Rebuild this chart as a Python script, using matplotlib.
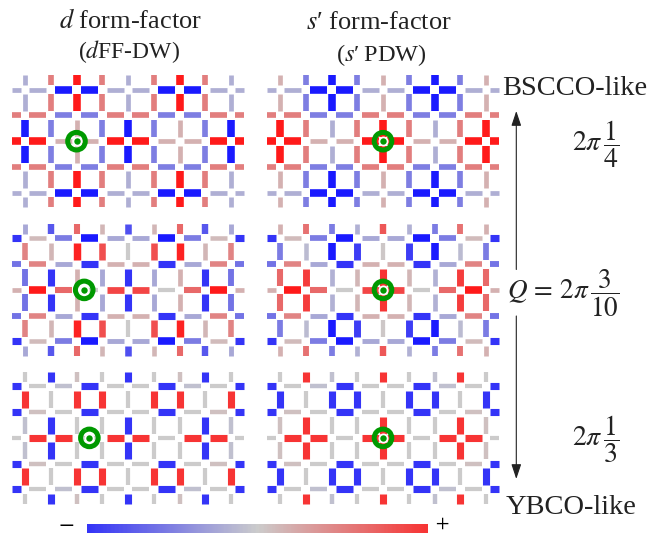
#!/usr/bin/env python3
# density wave bond patterns on the square lattice, three periods, two form factors
import numpy as np
import matplotlib
matplotlib.use("Agg")
import matplotlib.pyplot as plt
from matplotlib.collections import LineCollection
from matplotlib.colors import LinearSegmentedColormap

plt.rcParams["font.family"] = ["Liberation Serif", "DejaVu Serif"]
plt.rcParams["mathtext.fontset"] = "stix"

DPI = 100
W, H = 651, 535
TEXT = "#222222"
GREEN = "#009900"

# horizontal bonds: one row per lattice row, left stub + 8 bonds + right stub
H_TOP = [
    [-.16, -.16, -1, -1, -.16, -.16, -1, -1, -.16, -.16],
    [.43, .43, -.43, -.43, .43, .43, -.43, -.43, .43, .43],
    [1, 1, .15, .15, 1, 1, .15, .15, 1, 1],
    [.43, .43, -.43, -.43, .43, .43, -.43, -.43, .43, .43],
    [-.16, -.16, -1, -1, -.16, -.16, -1, -1, -.16, -.16],
]
H_MID = [
    [-.85, .1, -.45, -1, -.2, -.2, -1, -.45, .1, -.85],
    [-.5, .4, -.2, -.85, .15, .15, -.85, -.2, .4, -.5],
    [.15, 1, .55, 0, .75, .75, 0, .55, 1, .15],
    [-.5, .4, -.2, -.85, .15, .15, -.85, -.2, .4, -.5],
    [-.85, .1, -.45, -1, -.2, -.2, -1, -.45, .1, -.85],
]
H_LOW = [
    [-.85, 0, -.07, -.85, 0, 0, -.85, -.07, 0, -.85],
    [-.85, .07, 0, -.85, 0, 0, -.85, 0, .07, -.85],
    [0, .85, .85, 0, .85, .85, 0, .85, .85, 0],
    [-.85, .07, 0, -.85, 0, 0, -.85, 0, .07, -.85],
    [-.85, 0, -.07, -.85, 0, 0, -.85, -.07, 0, -.85],
]

# vertical bonds: one column per lattice column, top stub + 4 bonds + bottom stub
V_D_TOP = [
    [-.16, -.16, -1, -1, -.16, -.16],
    [.43, .43, -.43, -.43, .43, .43],
    [1, 1, .15, .15, 1, 1],
    [.43, .43, -.43, -.43, .43, .43],
    [-.16, -.16, -1, -1, -.16, -.16],
    [.43, .43, -.43, -.43, .43, .43],
    [1, 1, .15, .15, 1, 1],
    [.43, .43, -.43, -.43, .43, .43],
    [-.16, -.16, -1, -1, -.16, -.16],
]
V_S_TOP = [
    [.15, .15, 1, 1, .15, .15],
    [-.43, -.43, .43, .43, -.43, -.43],
    [-1, -1, -.16, -.16, -1, -1],
    [-.43, -.43, .43, .43, -.43, -.43],
    [.15, .15, 1, 1, .15, .15],
    [-.43, -.43, .43, .43, -.43, -.43],
    [-1, -1, -.16, -.16, -1, -1],
    [-.43, -.43, .43, .43, -.43, -.43],
    [.15, .15, 1, 1, .15, .15],
]
V_D_MID = [
    [-.2, .4, -.5, -.5, .4, -.2],
    [-.65, .12, -.85, -.85, .12, -.65],
    [.55, .95, .15, .15, .95, .55],
    [.12, .7, -.2, -.2, .7, .12],
    [-.7, 0, -.85, -.85, 0, -.7],
    [.12, .7, -.2, -.2, .7, .12],
    [.55, .95, .15, .15, .95, .55],
    [-.65, .12, -.85, -.85, .12, -.65],
    [-.2, .4, -.5, -.5, .4, -.2],
]
V_S_MID = [
    [.15, -.45, .55, .55, -.45, .15],
    [.5, -.1, .8, .8, -.1, .5],
    [-.45, -1, -.15, -.15, -1, -.45],
    [-.15, -.8, .12, .12, -.8, -.15],
    [.65, .03, .85, .85, .03, .65],
    [-.15, -.8, .12, .12, -.8, -.15],
    [-.45, -1, -.15, -.15, -1, -.45],
    [.5, -.1, .8, .8, -.1, .5],
    [.15, -.45, .55, .55, -.45, .15],
]
V_D_LOW = [
    [0, .85, -.07, -.07, .85, 0],
    [-.85, 0, -.85, -.85, 0, -.85],
    [.07, .85, 0, 0, .85, .07],
    [0, .85, 0, 0, .85, 0],
    [-.85, 0, -.85, -.85, 0, -.85],
    [0, .85, 0, 0, .85, 0],
    [.07, .85, 0, 0, .85, .07],
    [-.85, 0, -.85, -.85, 0, -.85],
    [0, .85, -.07, -.07, .85, 0],
]
V_S_LOW = [
    [0, -.85, .07, .07, -.85, 0],
    [.85, 0, .85, .85, 0, .85],
    [-.07, -.85, 0, 0, -.85, -.07],
    [0, -.85, 0, 0, -.85, 0],
    [.85, 0, .85, .85, 0, .85],
    [0, -.85, 0, 0, -.85, 0],
    [-.07, -.85, 0, 0, -.85, -.07],
    [.85, 0, .85, .85, 0, .85],
    [0, -.85, .07, .07, -.85, 0],
]

# modulation centre of each panel, in lattice units
CENTER_X_D = [2.0, 2.3, 2.5]
CENTER_X_S = [4.0, 4.0, 4.0]
CENTER_Y = 2

COLUMN_LEFT = [25.0, 280.0]         # pixel x of the first site
ROW_TOP = [89.7, 238.4, 386.4]      # pixel y of the first site
PITCH = 25.75
SITE_GAP = 0.17                     # bonds stop this far from a site

CBAR_RANGE = [-.85, .85]

cmap = LinearSegmentedColormap.from_list(
    "bond", [(0.1, 0.1, 1.0), (0.8, 0.8, 0.8), (1.0, 0.1, 0.1)])


def px_to_pt(value):
    return value * 72.0 / DPI


def bond_width(value):
    return px_to_pt(4.2 + 3.4 * abs(value))


def bond_span(i, last, stub):
    """start and end of bond i between sites i-1 and i, stubs stick out past the lattice"""
    a = -stub if i == 0 else i - 1 + SITE_GAP
    b = last + stub if i == last + 1 else i - SITE_GAP
    return a, b


def draw_panel(fig, left, top, h_bonds, v_bonds, center_x):
    """one lattice panel, axes data are lattice sites"""
    x0, x1, y0, y1 = -0.6, 8.6, -0.7, 4.7
    ax = fig.add_axes([(left + x0 * PITCH) / W,
                       1 - (top + y1 * PITCH) / H,
                       (x1 - x0) * PITCH / W,
                       (y1 - y0) * PITCH / H])
    ax.set_xlim(x0, x1)
    ax.set_ylim(y1, y0)
    ax.axis("off")

    segs, vals = [], []
    for r, row in enumerate(h_bonds):
        for i, v in enumerate(row):
            a, b = bond_span(i, 8, 0.5)
            segs.append([(a, r), (b, r)])
            vals.append(v)
    for c, col in enumerate(v_bonds):
        for i, v in enumerate(col):
            a, b = bond_span(i, 4, 0.57)
            segs.append([(c, a), (c, b)])
            vals.append(v)
    vals = np.array(vals)
    ax.add_collection(LineCollection(segs, colors=cmap((vals + 1) / 2),
                                     linewidths=[bond_width(v) for v in vals],
                                     capstyle="butt", zorder=1))

    # green target: ring, white halo, dot
    ax.scatter([center_x], [CENTER_Y], s=px_to_pt(17.6) ** 2, facecolors="none",
               edgecolors=GREEN, linewidths=px_to_pt(5.0), zorder=3)
    ax.scatter([center_x], [CENTER_Y], s=px_to_pt(10.0) ** 2, color="white",
               linewidths=0, zorder=3)
    ax.scatter([center_x], [CENTER_Y], s=px_to_pt(6.4) ** 2, color=GREEN,
               linewidths=0, zorder=4)


def main():
    fig = plt.figure(figsize=(W / DPI, H / DPI), dpi=DPI)

    panels = [(H_TOP, V_D_TOP, V_S_TOP), (H_MID, V_D_MID, V_S_MID), (H_LOW, V_D_LOW, V_S_LOW)]
    for k, (h_bonds, v_d, v_s) in enumerate(panels):
        draw_panel(fig, COLUMN_LEFT[0], ROW_TOP[k], h_bonds, v_d, CENTER_X_D[k])
        draw_panel(fig, COLUMN_LEFT[1], ROW_TOP[k], h_bonds, v_s, CENTER_X_S[k])

    # overlay in pixel coordinates for labels and arrows
    ov = fig.add_axes([0, 0, 1, 1], zorder=5)
    ov.set_xlim(0, W)
    ov.set_ylim(H, 0)
    ov.axis("off")
    ov.patch.set_alpha(0)

    ov.text(130, 21, r"$d$ form-factor", fontsize=19, ha="center", va="center", color=TEXT)
    ov.text(129, 52, r"($d$FF-DW)", fontsize=17, ha="center", va="center", color=TEXT)
    ov.text(379, 23, "$s$\u2032 form-factor", fontsize=19, ha="center", va="center", color=TEXT)
    ov.text(381, 55, "($s$\u2032\u2009PDW)", fontsize=17.5, ha="center", va="center", color=TEXT)
    ov.text(575, 88.5, "BSCCO-like", fontsize=20.5, ha="center", va="center", color=TEXT)
    ov.text(571, 507, "YBCO-like", fontsize=20.5, ha="center", va="center", color=TEXT)

    ov.text(572, 144.5, r"$2\pi\,\dfrac{1}{4}$", fontsize=20, ha="left", va="center", color=TEXT)
    ov.text(507, 293, r"$Q\,=\,2\pi\,\dfrac{3}{10}$", fontsize=19.5, ha="left", va="center", color=TEXT)
    ov.text(572, 439, r"$2\pi\,\dfrac{1}{3}$", fontsize=20, ha="left", va="center", color=TEXT)

    arrow = dict(arrowstyle="-|>,head_length=0.9,head_width=0.3", color=TEXT,
                 lw=0.8, shrinkA=0, shrinkB=0, mutation_scale=10)
    ov.annotate("", xy=(516.3, 111), xytext=(516.3, 269.5), arrowprops=arrow)
    ov.annotate("", xy=(516.3, 479), xytext=(516.3, 316), arrowprops=arrow)

    # just above the bottom edge, the reference has these nearly touching it
    ov.text(66, 524, r"$-$", fontsize=16.5, ha="center", va="center", color="black")
    ov.text(442, 524, r"$+$", fontsize=14, ha="center", va="center", color="black")

    cax = fig.add_axes([87 / W, 1 - 533 / H, (428 - 87) / W, 9 / H], zorder=5)
    cax.imshow(np.linspace(CBAR_RANGE[0], CBAR_RANGE[1], 256).reshape(1, -1),
               cmap=cmap, vmin=-1, vmax=1, aspect="auto")
    cax.axis("off")

    fig.savefig("out.png", dpi=DPI)


if __name__ == "__main__":
    main()
